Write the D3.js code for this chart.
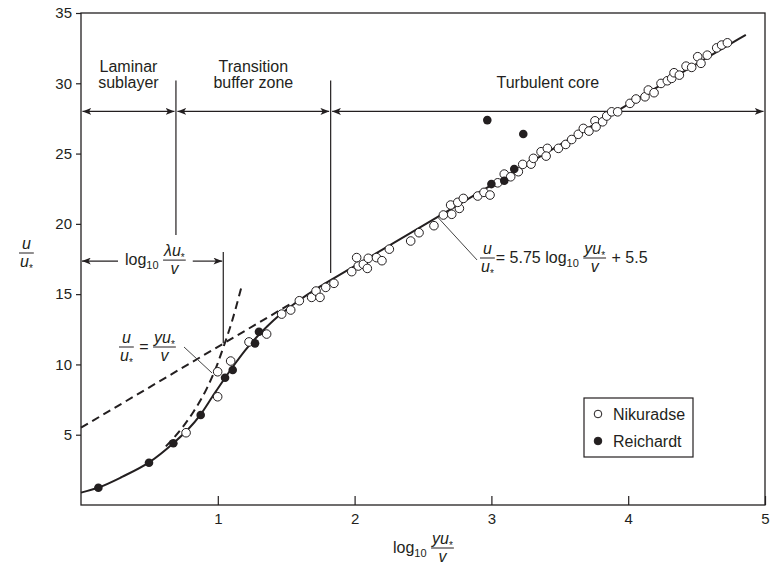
<!DOCTYPE html>
<html>
<head>
<meta charset="utf-8">
<script src="https://cdn.jsdelivr.net/npm/d3@7"></script>
<style>
    body { margin: 0; background: #fff; }
    svg { display: block; font-family: "Liberation Sans", Arial, sans-serif; }
    text { fill: #231f20; white-space: pre; }
</style>
</head>
<body>
<svg id="chart" width="771" height="566"></svg>
<script>
'use strict';

var xTicks = [1, 2, 3, 4, 5];
var yTicks = [5, 10, 15, 20, 25, 30, 35];

var nikuradseX = [0.768, 0.999, 0.999, 1.094, 1.228, 1.357, 1.467, 1.533, 1.596, 1.686, 1.718, 1.747, 1.789, 1.849,
    1.979, 2.027, 2.064, 2.093, 2.015, 2.1, 2.16, 2.2, 2.254, 2.41, 2.471, 2.58, 2.649, 2.71, 2.702, 2.766, 2.754,
    2.795, 2.9, 2.946, 2.99, 3.046, 3.094, 3.141, 3.197, 3.229, 3.29, 3.307, 3.363, 3.409, 3.4, 3.49, 3.543, 3.587,
    3.635, 3.672, 3.713, 3.757, 3.765, 3.813, 3.843, 3.879, 3.923, 4.013, 4.057, 4.123, 4.147, 4.189, 4.24, 4.286,
    4.318, 4.335, 4.374, 4.423, 4.464, 4.508, 4.532, 4.578, 4.647, 4.683, 4.725];
var nikuradseU = [5.14, 7.7, 9.48, 10.24, 11.6, 12.16, 13.58, 13.87, 14.53, 14.77, 15.22, 14.77, 15.48, 15.77,
    16.6, 17.0, 17.12, 16.83, 17.6, 17.55, 17.6, 17.38, 18.2, 18.78, 19.37, 19.87, 20.63, 20.68, 21.34, 21.1, 21.53,
    21.81, 21.98, 22.24, 22.05, 22.92, 23.54, 23.35, 23.71, 24.23, 24.25, 24.66, 25.13, 25.37, 24.82, 25.37, 25.65, 26.0,
    26.37, 26.79, 26.6, 27.33, 26.9, 27.26, 27.67, 27.97, 27.97, 28.57, 28.88, 29.04, 29.52, 29.33, 29.99, 30.18,
    30.35, 30.75, 30.58, 31.22, 31.13, 31.89, 31.42, 32.0, 32.52, 32.72, 32.88];

var reichardtX = [0.127, 0.497, 0.675, 0.875, 1.053, 1.109, 1.272, 1.301, 2.97, 3.233, 3.0, 3.094, 3.167];
var reichardtU = [1.23, 3.01, 4.39, 6.4, 9.05, 9.6, 11.5, 12.33, 27.38, 26.39, 22.83, 23.07, 23.9];

// solid profile
var profileX = [0, 0.13, 0.3, 0.5, 0.675, 0.78, 0.875, 0.96, 1.05, 1.13, 1.2, 1.28, 1.36, 1.45, 1.55, 1.7, 1.85, 2, 3, 4, 4.86];
var profileU = [0.88, 1.25, 2.0, 3.05, 4.4, 5.35, 6.45, 7.7, 9.0, 10.1, 11.0, 11.9, 12.7, 13.5, 14.25, 15.25, 16.14, 17.0, 22.75, 28.5, 33.45];

// dashed u/u* = yu*/v
var linearX = [0.62, 0.72, 0.82, 0.92, 1.0, 1.04, 1.1, 1.17];
var linearU = [4.17, 5.25, 6.6, 8.3, 10.1, 11.2, 12.95, 15.4];

// dashed log law carried down to the wall
var logExtX = [0, 1.55];
var logExtU = [5.5, 14.41];

// zone edges (log10 yu*/v)
var zoneEdges = [0, 0.694, 1.825, 5];
var innerEdge = 1.04;

var ink = '#231f20';
var svg = d3.select('#chart');
var x = d3.scaleLinear().domain([0, 5]).range([81, 765]);
var y = d3.scaleLinear().domain([0, 35]).range([505, 13]);

var zip = function (xs, us) {
    return xs.map(function (v, i) { return [v, us[i]]; });
};

var defs = svg.append('defs');
defs.append('marker')
    .attr('id', 'arr')
    .attr('viewBox', '0 0 10 8')
    .attr('refX', 10)
    .attr('refY', 4)
    .attr('markerWidth', 9)
    .attr('markerHeight', 7)
    .attr('markerUnits', 'userSpaceOnUse')
    .attr('orient', 'auto-start-reverse')
    .append('path')
    .attr('d', 'M0,0L10,4L0,8L2.5,4z')
    .style('fill', ink);

// axes
var yAxis = svg.append('g')
    .attr('transform', 'translate(' + x(0) + ',0)')
    .call(d3.axisLeft(y).tickValues(yTicks).tickSize(5).tickPadding(4));
var xAxis = svg.append('g')
    .attr('transform', 'translate(0,' + y(0) + ')')
    .call(d3.axisBottom(x).tickValues(xTicks).tickFormat(d3.format('d')).tickSize(-9).tickPadding(8));

[yAxis, xAxis].forEach(function (g) {
    g.select('.domain').remove();
    g.attr('font-family', null).attr('font-size', 15);
    g.selectAll('line').style('stroke', ink).style('stroke-width', 1.2);
    g.selectAll('text').style('fill', ink);
});

svg.append('rect')
    .attr('x', x(0))
    .attr('y', y(35))
    .attr('width', x(5) - x(0))
    .attr('height', y(0) - y(35))
    .style('fill', 'none')
    .style('stroke', ink)
    .style('stroke-width', 1.3);

// math text helpers
function addRuns(text, parts) {
    var shift = 0;
    parts.forEach(function (p) {
        var t = text.append('tspan').text(p[0]);
        var target = 0;
        if (p[1] === 'i') {
            t.style('font-style', 'italic');
        } else if (p[1] === 's') {
            t.style('font-size', '11px');
            target = 4;
        } else if (p[1] === '*') {
            t.style('font-size', '10px');
            target = 5;
        }
        if (target !== shift) {
            t.attr('dy', target - shift);
            shift = target;
        }
    });
}

function mathRow(x0, yMid, items) {
    var g = svg.append('g').style('font-size', '16px');
    var cx = x0;
    items.forEach(function (item) {
        if (item.num) {
            var num = g.append('text').attr('y', yMid - 4);
            var den = g.append('text').attr('y', yMid + 13.5);
            addRuns(num, item.num);
            addRuns(den, item.den);
            var wn = num.node().getComputedTextLength();
            var wd = den.node().getComputedTextLength();
            var w = Math.max(wn, wd) + 2;
            num.attr('x', cx + (w - wn) / 2);
            den.attr('x', cx + (w - wd) / 2);
            g.append('line')
                .attr('x1', cx).attr('x2', cx + w)
                .attr('y1', yMid).attr('y2', yMid)
                .style('stroke', ink)
                .style('stroke-width', 1);
            cx += w + 1;
        } else {
            var t = g.append('text').attr('x', cx).attr('y', yMid + 5);
            addRuns(t, item.text);
            cx += t.node().getComputedTextLength();
        }
    });
    return { g: g, x0: x0, x1: cx };
}

var uStar = [['u', 'i'], ['*', '*']];
var yuStar = [['yu', 'i'], ['*', '*']];

// dashed reference lines and solid profile
var line = d3.line()
    .x(function (d) { return x(d[0]); })
    .y(function (d) { return y(d[1]); })
    .curve(d3.curveMonotoneX);

[zip(logExtX, logExtU), zip(linearX, linearU)].forEach(function (pts) {
    svg.append('path')
        .attr('d', line(pts))
        .style('fill', 'none')
        .style('stroke', ink)
        .style('stroke-width', 2)
        .style('stroke-dasharray', '8,5');
});

svg.append('path')
    .attr('d', line(zip(profileX, profileU)))
    .style('fill', 'none')
    .style('stroke', ink)
    .style('stroke-width', 2);

// zone boundaries
var vlines = [[zoneEdges[1], 30.2, 19.2], [zoneEdges[2], 30.2, 16.5], [innerEdge, 18.0, 11.5]];
vlines.forEach(function (v) {
    svg.append('line')
        .attr('x1', x(v[0])).attr('x2', x(v[0]))
        .attr('y1', y(v[1])).attr('y2', y(v[2]))
        .style('stroke', ink)
        .style('stroke-width', 1.2);
});

function arrow(xa, xb, yy, start, end) {
    svg.append('line')
        .attr('x1', xa).attr('x2', xb)
        .attr('y1', yy).attr('y2', yy)
        .attr('marker-start', start ? 'url(#arr)' : null)
        .attr('marker-end', end ? 'url(#arr)' : null)
        .style('stroke', ink)
        .style('stroke-width', 1.2);
}

for (var i = 0; i < zoneEdges.length - 1; i += 1) {
    arrow(x(zoneEdges[i]) + 1.5, x(zoneEdges[i + 1]) - 1.5, y(28), true, true);
}

// zone names
var zoneNames = [['Laminar', 'sublayer'], ['Transition', 'buffer zone'], ['Turbulent core']];
zoneNames.forEach(function (lines, k) {
    var cx = x((zoneEdges[k] + zoneEdges[k + 1]) / 2);
    var base = lines.length > 1 ? 71.5 : 87.5;
    lines.forEach(function (s, j) {
        svg.append('text')
            .attr('x', cx)
            .attr('y', base + j * 16)
            .attr('text-anchor', 'middle')
            .style('font-size', '16px')
            .text(s);
    });
});

// log10 (lambda u*/v) span
var lam = mathRow(125, y(17.35) - 1, [
    { text: [['log'], ['10', 's'], [' ']] },
    { num: [['λ', 'i'], ['u', 'i'], ['*', '*']], den: [['v', 'i']] }
]);
arrow(x(0) + 1, lam.x0 - 7, y(17.35), true, false);
arrow(lam.x1 + 6, x(innerEdge) - 1, y(17.35), false, true);

// leader lines
var leaders = [[0.753, 11.24, 0.958, 9.39], [2.61, 20.45, 2.895, 17.43]];
leaders.forEach(function (l) {
    svg.append('line')
        .attr('x1', x(l[0])).attr('y1', y(l[1]))
        .attr('x2', x(l[2])).attr('y2', y(l[3]))
        .style('stroke', '#444')
        .style('stroke-width', 1);
});

mathRow(119, 347, [
    { num: [['u', 'i']], den: uStar },
    { text: [[' = ']] },
    { num: yuStar, den: [['v', 'i']] }
]);

mathRow(480, 258, [
    { num: [['u', 'i']], den: uStar },
    { text: [['= 5.75 log'], ['10', 's'], [' ']] },
    { num: yuStar, den: [['v', 'i']] },
    { text: [[' + 5.5']] }
]);

// data points
svg.append('g').selectAll('circle')
    .data(zip(nikuradseX, nikuradseU))
    .join('circle')
    .attr('cx', function (d) { return x(d[0]); })
    .attr('cy', function (d) { return y(d[1]); })
    .attr('r', 4.3)
    .style('fill', '#fff')
    .style('stroke', ink)
    .style('stroke-width', 1);

svg.append('g').selectAll('circle')
    .data(zip(reichardtX, reichardtU))
    .join('circle')
    .attr('cx', function (d) { return x(d[0]); })
    .attr('cy', function (d) { return y(d[1]); })
    .attr('r', 4.3)
    .style('fill', ink);

// axis titles
mathRow(19, 253, [
    { num: [['u', 'i']], den: uStar }
]);
mathRow(393, 548, [
    { text: [['log'], ['10', 's'], [' ']] },
    { num: yuStar, den: [['v', 'i']] }
]);

// legend
var legend = svg.append('g').attr('transform', 'translate(584,398)');
legend.append('rect')
    .attr('width', 109)
    .attr('height', 59)
    .style('fill', '#fff')
    .style('stroke', ink)
    .style('stroke-width', 1.2);
[['Nikuradse', '#fff'], ['Reichardt', ink]].forEach(function (e, k) {
    legend.append('circle')
        .attr('cx', 14).attr('cy', 16 + k * 27)
        .attr('r', 3.8)
        .style('fill', e[1])
        .style('stroke', ink)
        .style('stroke-width', 1);
    legend.append('text')
        .attr('x', 29).attr('y', 21.5 + k * 27)
        .style('font-size', '16px')
        .text(e[0]);
});
</script>
</body>
</html>
